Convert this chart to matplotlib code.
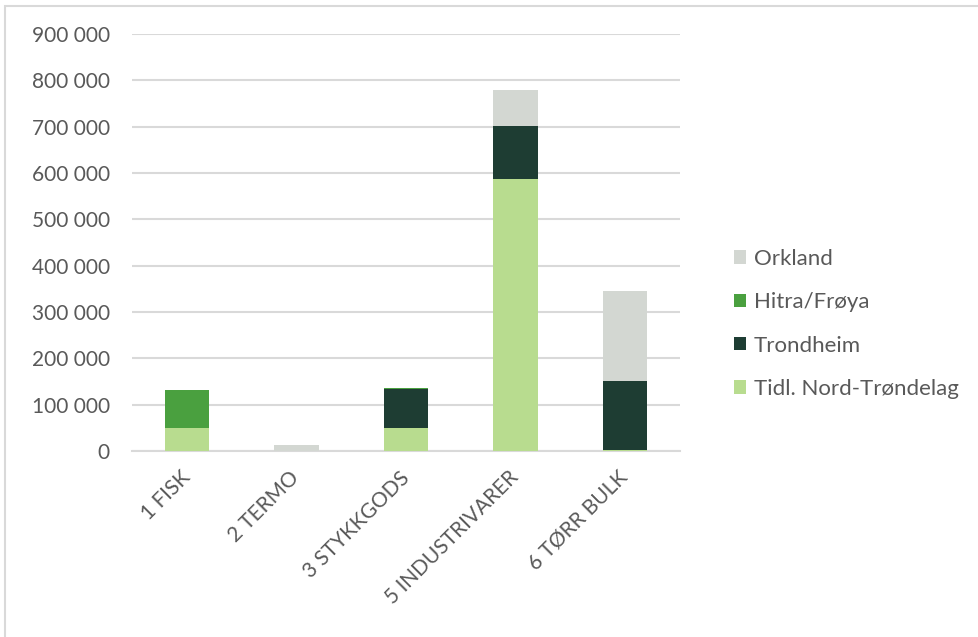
import matplotlib
matplotlib.use("Agg")
import matplotlib.pyplot as plt
from matplotlib.patches import Rectangle
from matplotlib.ticker import FuncFormatter, MultipleLocator
import numpy as np

plt.rcParams['font.family'] = ['Lato', 'DejaVu Sans']

categories = ["1 FISK", "2 TERMO", "3 STYKKGODS", "5 INDUSTRIVARER", "6 TØRR BULK"]
series_names = ["Tidl. Nord-Trøndelag", "Trondheim", "Hitra/Frøya", "Orkland"]
nord_trondelag = [49000, 0, 49000, 587000, 3000]
trondheim = [0, 0, 84000, 115000, 149000]
hitra_froya = [83000, 0, 2000, 0, 0]
orkland = [0, 14000, 0, 78000, 193000]
colors = ["#B8DC8F", "#1E3D33", "#4AA03F", "#D3D7D2"]

W, H = 979, 637
fig = plt.figure(figsize=(W / 100, H / 100), dpi=100)
fig.patch.set_facecolor("white")
fig.add_artist(Rectangle((5 / W, -0.01), 1.02, 1 - 6 / H + 0.01, transform=fig.transFigure,
                         fill=False, edgecolor="#D9D9D9", linewidth=1.5))

ax = fig.add_axes([132 / W, 1 - 451 / H, (680 - 132) / W, (451 - 34) / H])
x = np.arange(len(categories))
bottom = np.zeros(len(categories))
handles = []
for name, vals, c in zip(series_names, [nord_trondelag, trondheim, hitra_froya, orkland], colors):
    b = ax.bar(x, vals, width=0.405, bottom=bottom, color=c, label=name, zorder=3)
    handles.append(b)
    bottom += np.array(vals)

ax.set_xlim(-0.5, len(categories) - 0.5)
ax.set_ylim(0, 900000)
ax.yaxis.set_major_locator(MultipleLocator(100000))
ax.yaxis.set_major_formatter(FuncFormatter(lambda v, p: f"{int(v):,}".replace(",", " ")))
ax.grid(axis="y", color="#D9D9D9", linewidth=1.5, zorder=0)
for s in ["top", "right", "left"]:
    ax.spines[s].set_visible(False)
ax.spines["bottom"].set_color("#D9D9D9")
ax.spines["bottom"].set_linewidth(1.5)
ax.tick_params(axis="both", length=0, labelsize=15, labelcolor="#595959")
ax.tick_params(axis="y", pad=16)
ax.set_xticks(x)
ax.set_xticklabels(categories, rotation=45, ha="right", va="center", rotation_mode="anchor")
for lbl in ax.get_xticklabels():
    lbl.set_y(-0.045)

leg = fig.legend(handles[::-1], series_names[::-1], loc="center left",
                 bbox_to_anchor=(714 / W, 1 - 324 / H), frameon=False,
                 fontsize=16, labelcolor="#595959", handlelength=0.55, handleheight=0.55,
                 handletextpad=0.35, labelspacing=1.05)

fig.savefig("out.png", dpi=100, facecolor="white")
